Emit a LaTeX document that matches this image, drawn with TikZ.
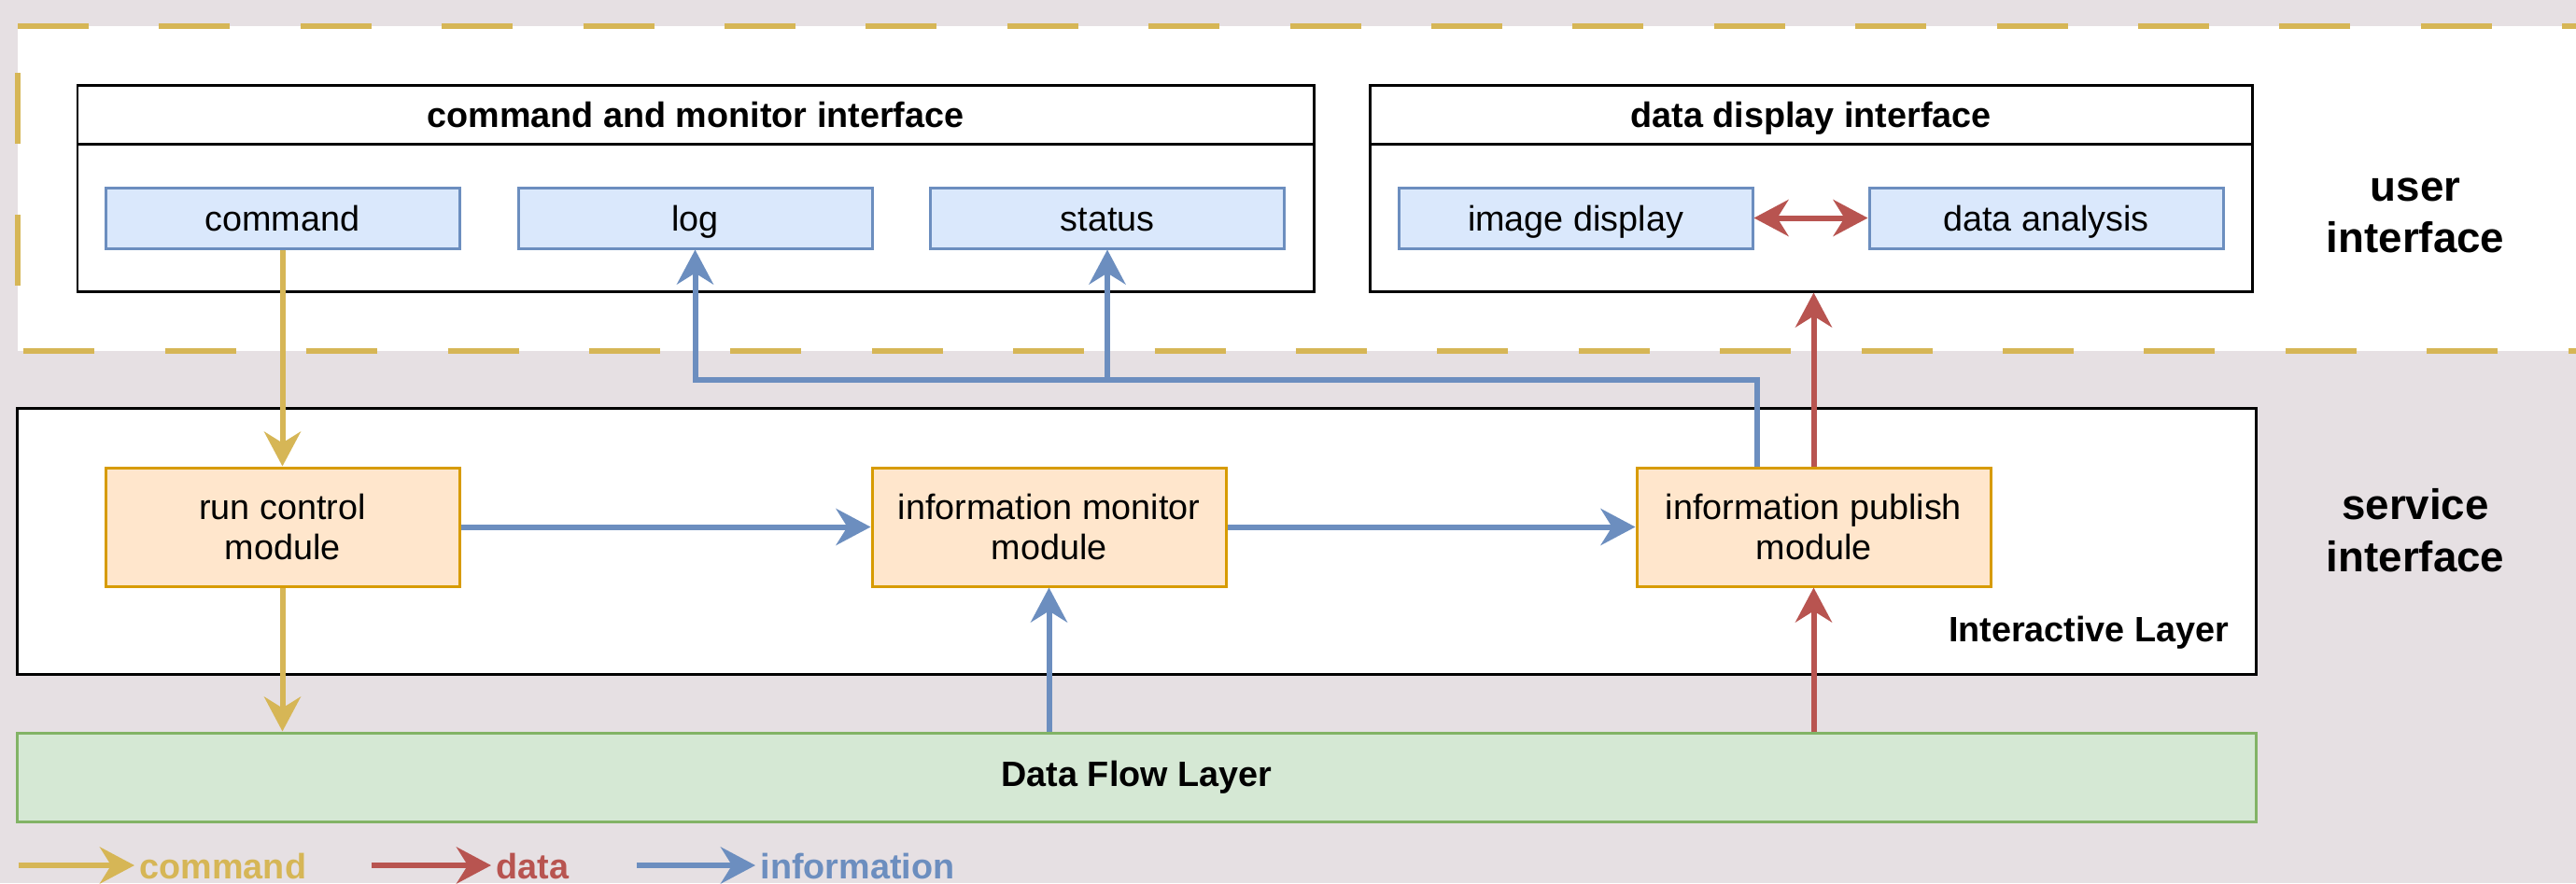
\documentclass[tikz,border=0pt]{standalone}
\usepackage{fontspec}
\setmainfont{Liberation Sans}
\usetikzlibrary{arrows.meta}
\definecolor{bgcol}{HTML}{E6E0E3}
\definecolor{cmdcol}{HTML}{D6B656}
\definecolor{datacol}{HTML}{B85450}
\definecolor{infocol}{HTML}{6C8EBF}
\definecolor{itemfill}{HTML}{DAE8FC}
\definecolor{modfill}{HTML}{FFE6CC}
\definecolor{moddraw}{HTML}{D79B00}
\definecolor{layerfill}{HTML}{D5E8D4}
\definecolor{layerdraw}{HTML}{82B366}
\begin{document}
\begin{tikzpicture}[
        font=\fontsize{10.75}{12.4}\selectfont,
        >={Stealth[length=0.37cm, width=0.39cm, inset=0.12cm]},
        box/.style={
            draw=#1,
            line width=0.03cm,
            minimum height=0.65cm,
            align=center,
            inner sep=2pt
        },
        panel/.style={box=black, fill=white, minimum height=2.21cm},
        panelhead/.style={box=black, fill=white, minimum height=0.63cm, text height=0.8em, text depth=0em, font=\fontsize{10.75}{12.4}\selectfont\bfseries},
        itembox/.style={box=infocol, fill=itemfill, minimum width=3.79cm, text height=0.77em, text depth=0em},
        modbox/.style={box=moddraw, fill=modfill, minimum width=3.79cm, minimum height=1.27cm},
        layerbox/.style={box=#1, minimum width=23.97cm},
        sidelabel/.style={font=\fontsize{13}{15.8}\selectfont\bfseries, align=center},
        legendtext/.style={text=#1, font=\fontsize{10.75}{12.4}\selectfont\bfseries, inner sep=0.05cm, anchor=base west},
        flow/.style={line width=0.06cm},
        cmdarrow/.style={flow, draw=cmdcol, ->},
        dataarrow/.style={flow, draw=datacol, ->},
        infoarrow/.style={flow, draw=infocol, ->},
        uiborder/.style={draw=cmdcol, line width=0.06cm, dash pattern=on 0.76cm off 0.754cm}
    ]
        \useasboundingbox (0,0) rectangle (27.59,-9.46);
        \clip (0,0) rectangle (27.59,-9.46);
        \fill[bgcol] (0,0) rectangle (27.59,-9.46);

        \fill[white] (0.19,-0.28) rectangle (27.8,-3.76);
        \draw[uiborder] (0.19,-0.28) -- (27.8,-0.28);
        \draw[uiborder, dash phase=1.45cm] (0.19,-3.76) -- (27.8,-3.76);
        \draw[uiborder, dash phase=0.81cm] (0.19,-3.76) -- (0.19,-0.28);

        \node[panel, minimum width=13.24cm] (cmdmon) at (7.45,-2.015) {};
        \node[panelhead, minimum width=13.24cm] (cmdmonhead) at (7.45,-1.225) {command and monitor interface};
        \node[itembox] (command) at (3.025,-2.335) {command};
        \node[itembox] (log) at (7.445,-2.335) {log};
        \node[itembox] (status) at (11.86,-2.335) {status};

        \node[panel, minimum width=9.45cm] (datadisp) at (19.395,-2.015) {};
        \node[panelhead, minimum width=9.45cm] (datadisphead) at (19.395,-1.225) {data display interface};
        \node[itembox] (imagedisp) at (16.875,-2.335) {image display};
        \node[itembox] (analysis) at (21.915,-2.335) {data analysis};

        \node[sidelabel] (userlabel) at (25.87,-2.31) {user\\interface};

        \node[layerbox=black, fill=white, minimum height=2.844cm] (interactive) at (12.175,-5.798) {};
        \node[font=\fontsize{10.75}{12.4}\selectfont\bfseries, anchor=east, inner sep=0pt] (interlabel) at (23.88,-6.78) {Interactive Layer};
        \node[modbox] (runctl) at (3.025,-5.645) {run control\\module};
        \node[modbox] (monitor) at (11.235,-5.645) {information monitor\\module};
        \node[modbox] (publish) at (19.425,-5.645) {information publish\\module};

        \node[sidelabel] (servicelabel) at (25.87,-5.68) {service\\interface};

        \node[layerbox=layerdraw, fill=layerfill, minimum height=0.95cm, font=\fontsize{10.75}{12.4}\selectfont\bfseries] (dataflow) at (12.175,-8.325) {Data Flow Layer};

        \coordinate (infobus) at (0,-4.07);
        \draw[cmdarrow] (command.south) -- (runctl.north);
        \draw[cmdarrow] (runctl.south) -- (runctl.south |- dataflow.north);
        \draw[infoarrow] (runctl.east) -- (monitor.west);
        \draw[infoarrow] (monitor.east) -- (publish.west);
        \draw[infoarrow] (monitor.south |- dataflow.north) -- (monitor.south);
        \draw[dataarrow] (publish.south |- dataflow.north) -- (publish.south);
        \draw[dataarrow] (publish.north) -- (publish.north |- datadisp.south);
        \draw[infoarrow] ([xshift=-0.605cm]publish.north) |- (log.south |- infobus) -- (log.south);
        \draw[infoarrow] (status.south |- infobus) -- (status.south);
        \draw[flow, draw=datacol, <->] (imagedisp.east) -- (analysis.west);

        \node[legendtext=cmdcol] (legcmd) at (1.44,-9.41) {command};
        \node[legendtext=datacol] (legdata) at (5.26,-9.41) {data};
        \node[legendtext=infocol] (leginfo) at (8.09,-9.41) {information};
        \coordinate (legcmdstart) at (0.20,-9.27);
        \coordinate (legdatastart) at (3.98,-9.27);
        \coordinate (leginfostart) at (6.82,-9.27);
        \draw[cmdarrow, line width=0.067cm] (legcmdstart) -- (legcmdstart -| legcmd.west);
        \draw[dataarrow, line width=0.067cm] (legdatastart) -- (legdatastart -| legdata.west);
        \draw[infoarrow, line width=0.067cm] (leginfostart) -- (leginfostart -| leginfo.west);
    \end{tikzpicture}
\end{document}
